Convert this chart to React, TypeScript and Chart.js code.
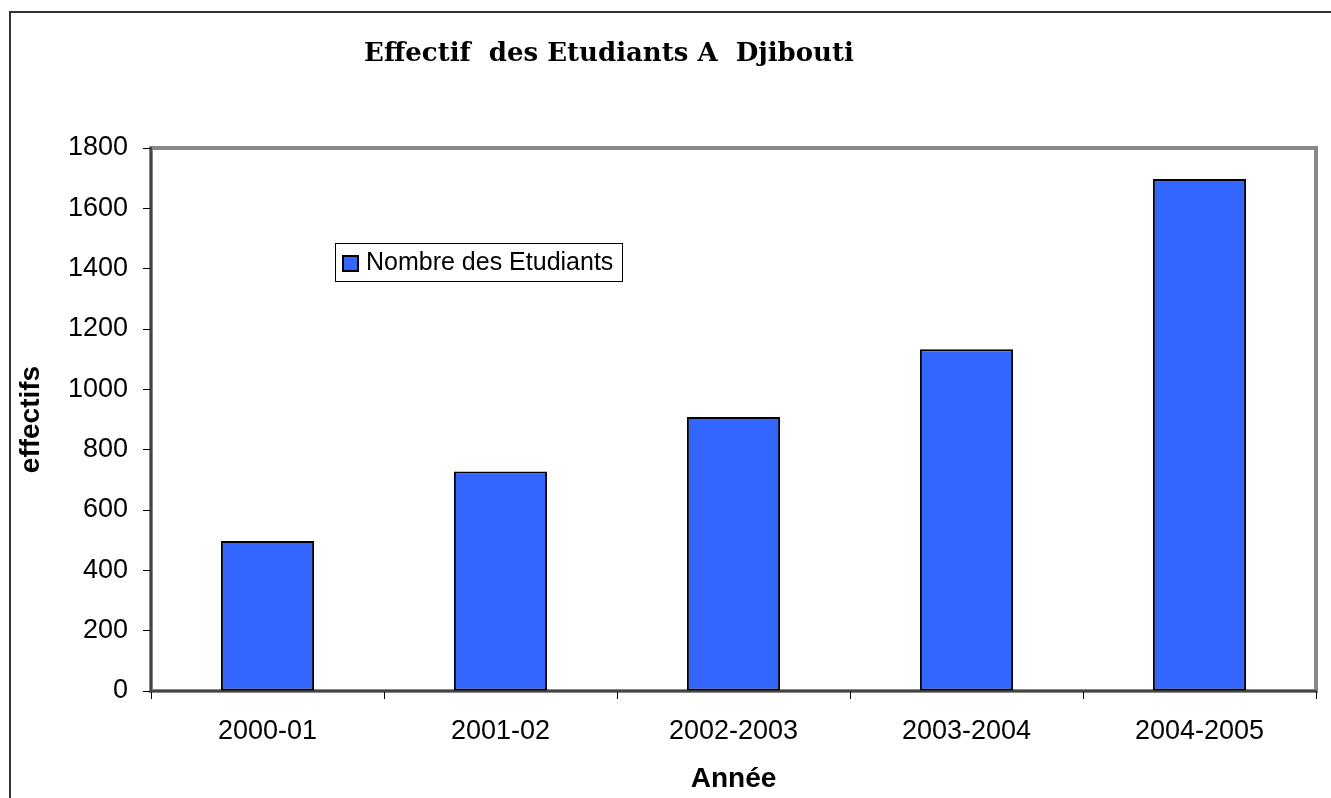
import React, { useEffect, useRef } from "react";
import { Chart, registerables } from "chart.js";

Chart.register(...registerables);

const categories = ["2000-01", "2001-02", "2002-2003", "2003-2004", "2004-2005"];
const studentCounts = [497, 728, 908, 1133, 1697];
const seriesLabel = "Nombre des Etudiants";
const chartTitle = "Effectif  des Etudiants A  Djibouti";
const yAxisTitle = "effectifs";
const xAxisTitle = "Année";
const yMin = 0;
const yMax = 1800;
const yStep = 200;

const BAR_COLOR = "#3366FF";
const SANS = "'Liberation Sans', Arial, sans-serif";

const plotFramePlugin = {
  id: "plotFrame",
  beforeDraw(chart: any) {
    const { ctx, chartArea } = chart;
    ctx.save();
    ctx.strokeStyle = "#888888";
    ctx.lineWidth = 4;
    ctx.strokeRect(chartArea.left, chartArea.top, chartArea.right - chartArea.left, chartArea.bottom - chartArea.top);
    ctx.restore();
  },
};

const titlePlugin = {
  id: "customTitle",
  afterDraw(chart: any) {
    const { ctx } = chart;
    ctx.save();
    ctx.font = "bold 26px 'DejaVu Serif', serif";
    ctx.fillStyle = "#000";
    ctx.textAlign = "center";
    ctx.textBaseline = "middle";
    ctx.fillText(chartTitle, 609, 54);
    ctx.restore();
  },
};

const legendPlugin = {
  id: "customLegend",
  afterDraw(chart: any) {
    const { ctx } = chart;
    const ds = chart.data.datasets[0];
    ctx.save();
    ctx.fillStyle = "#fff";
    ctx.fillRect(335.5, 243.5, 287, 38);
    ctx.strokeStyle = "#000";
    ctx.lineWidth = 1;
    ctx.strokeRect(335.5, 243.5, 287, 38);
    ctx.fillStyle = ds.backgroundColor;
    ctx.fillRect(343, 256, 15, 15);
    ctx.lineWidth = 2;
    ctx.strokeRect(343, 256, 15, 15);
    ctx.fillStyle = "#000";
    ctx.font = `25px ${SANS}`;
    ctx.textAlign = "left";
    ctx.textBaseline = "middle";
    ctx.fillText(ds.label, 366, 263);
    ctx.restore();
  },
};

export default function App() {
  const canvasRef = useRef<HTMLCanvasElement | null>(null);

  useEffect(() => {
    if (!canvasRef.current) return;
    const chart = new Chart(canvasRef.current, {
      type: "bar",
      data: {
        labels: categories,
        datasets: [
          {
            label: seriesLabel,
            data: studentCounts,
            backgroundColor: BAR_COLOR,
            borderColor: "#000",
            borderWidth: 2,
            borderSkipped: false,
            categoryPercentage: 1,
            barPercentage: 0.4,
          },
        ],
      },
      options: {
        responsive: false,
        animation: false,
        devicePixelRatio: 1,
        layout: { padding: { top: 148, right: 15, left: 0, bottom: 0 } },
        plugins: {
          legend: { display: false },
          title: { display: false },
          tooltip: { enabled: false },
        },
        scales: {
          x: {
            afterFit: (scale: any) => {
              scale.height = 107;
            },
            grid: {
              offset: true,
              drawOnChartArea: false,
              drawTicks: true,
              tickLength: 8,
              color: "#000",
            },
            border: { display: true, color: "#444", width: 2 },
            ticks: {
              color: "#000",
              padding: 16,
              maxRotation: 0,
              autoSkip: false,
              font: { family: SANS, size: 27 },
            },
            title: {
              display: true,
              text: xAxisTitle,
              color: "#000",
              padding: { top: 0, bottom: 2 },
              font: { family: SANS, size: 28, weight: "bold" },
            },
          },
          y: {
            min: yMin,
            max: yMax,
            afterFit: (scale: any) => {
              scale.width = 151;
            },
            grid: {
              drawOnChartArea: false,
              drawTicks: true,
              tickLength: 8,
              color: "#000",
            },
            border: { display: true, color: "#444", width: 2 },
            ticks: {
              stepSize: yStep,
              color: "#000",
              padding: 15,
              font: { family: SANS, size: 27 },
              callback: (value: any) => String(value),
            },
            title: {
              display: true,
              text: yAxisTitle,
              color: "#000",
              padding: { top: 14, bottom: 0 },
              font: { family: SANS, size: 28, weight: "bold" },
            },
          },
        },
      },
      plugins: [plotFramePlugin, titlePlugin, legendPlugin],
    });
    return () => chart.destroy();
  }, []);

  return (
    <div
      style={{
        position: "absolute",
        left: 0,
        top: 0,
        width: 1331,
        height: 798,
        overflow: "hidden",
        background: "#fff",
      }}
    >
      <div
        style={{
          position: "absolute",
          left: 9,
          top: 11,
          width: 1400,
          height: 900,
          borderTop: "2px solid #333",
          borderLeft: "2px solid #333",
        }}
      />
      <canvas
        ref={canvasRef}
        width={1331}
        height={798}
        style={{ position: "absolute", left: 0, top: 0, width: 1331, height: 798 }}
      />
    </div>
  );
}
